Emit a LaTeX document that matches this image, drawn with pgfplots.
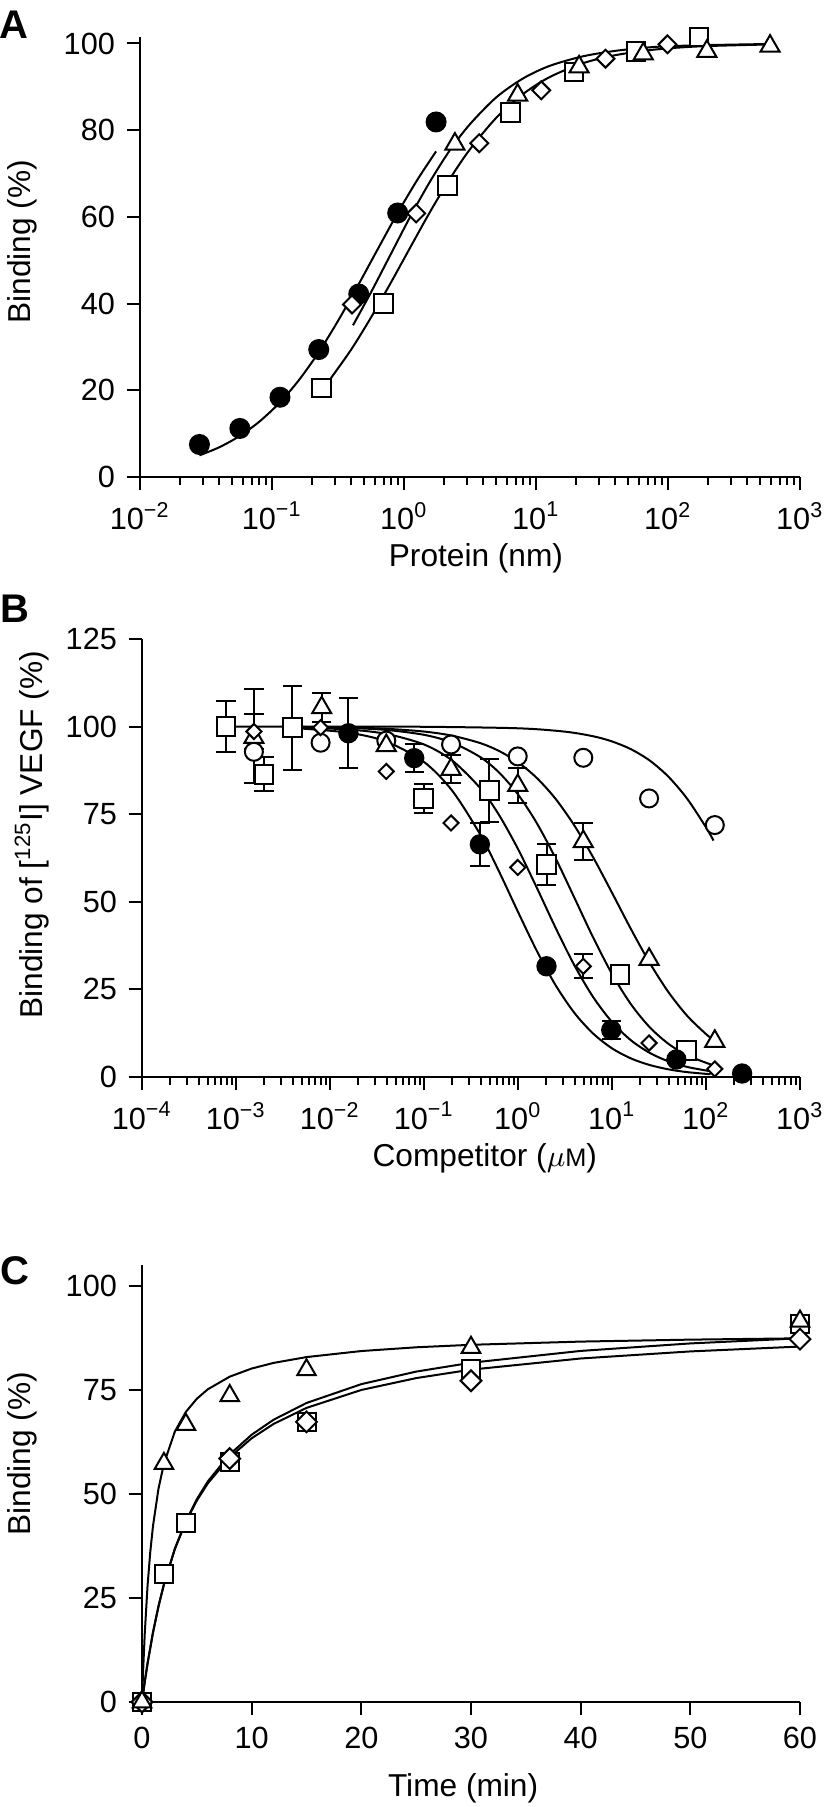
\documentclass[border=0pt]{standalone}
\usepackage{pgfplots}
\pgfplotsset{compat=1.18}
\usepackage{fontspec}
\setmainfont{Liberation Sans}

\pgfplotsset{
  panel/.style={
    scale only axis,
    anchor=south west,
    axis lines=left,
    axis line style={-, line width=0.6pt, black},
    tick align=outside,
    major tick length=4pt,
    minor tick length=2.4pt,
    tick style={black, line width=0.6pt},
    tick label style={font=\fontsize{9.2}{10}\selectfont},
    every axis label/.append style={font=\fontsize{9.5}{11}\selectfont},
    /pgf/number format/assume math mode=true,
    clip=false,
  },
  fitline/.style={no markers, black, line width=0.6pt, smooth},
  mfc/.style={only marks, mark=*, mark size=#1, mark options={draw=black, fill=black, line width=0.6pt}},
  mfc/.default=2.85pt,
  moc/.style={only marks, mark=*, mark size=2.7pt, mark options={draw=black, fill=white, line width=0.6pt}},
  msq/.style={only marks, mark=square*, mark size=#1, mark options={draw=black, fill=white, line width=0.6pt}},
  msq/.default=2.8pt,
  mtr/.style={only marks, mark=triangle*, mark size=#1, mark options={draw=black, fill=white, line width=0.6pt}},
  mtr/.default=3.3pt,
  mdm/.style={only marks, mark=square*, mark size=#1, mark options={draw=black, fill=white, line width=0.6pt, rotate=45}},
  mdm/.default=1.9pt,
  ebar/.style={only marks, mark=*, mark size=0.1pt, mark options={black},
    error bars/.cd, y dir=both, y explicit, error mark=|,
    error bar style={black, line width=0.6pt},
    error mark options={black, line width=0.6pt, mark size=2.9pt}},
}

\begin{document}
\begin{tikzpicture}[x=1pt,y=1pt]
\useasboundingbox (0,0) rectangle (247.2,-542.1);
\node[font=\bfseries\fontsize{12}{14}\selectfont] at (4.2,-7.5) {A};
\node[font=\bfseries\fontsize{12}{14}\selectfont] at (4.5,-182.7) {B};
\node[font=\bfseries\fontsize{12}{14}\selectfont] at (4.5,-381.3) {C};

% ---------------- Panel A ----------------
\begin{axis}[panel, at={(42pt,-143.1pt)}, width=198pt, height=132pt,
  xmode=log, xmin=1e-2, xmax=1e3, ymin=0, ymax=101.5,
  xtick={1e-2,1e-1,1,1e1,1e2,1e3},
  xticklabels={10\textsuperscript{−2},10\textsuperscript{−1},10\textsuperscript{0},10\textsuperscript{1},10\textsuperscript{2},10\textsuperscript{3}},
  minor xtick={0.02,0.03,0.04,0.05,0.06,0.07,0.08,0.09,0.2,0.3,0.4,0.5,0.6,0.7,0.8,0.9,2,3,4,5,6,7,8,9,20,30,40,50,60,70,80,90,200,300,400,500,600,700,800,900},
  ytick={0,20,40,60,80,100},
  xlabel={Protein (nm)}, ylabel={Binding (\%)},
  every axis x label/.style={at={(axis description cs:0.509,-0.184)}, anchor=center},
  every axis y label/.style={at={(axis description cs:-0.179,0.535)}, anchor=center, rotate=90},
]
\addplot[fitline] coordinates {(0.0282,4.99) (0.0398,6.85) (0.0562,9.36) (0.0794,12.66) (0.1122,16.9) (0.1585,22.2) (0.2239,28.6) (0.3162,36.0) (0.4467,44.1) (0.6310,52.5) (0.8913,60.8) (1.2589,68.5) (1.750,75.1)};
\addplot[fitline] coordinates {(0.411,35.0) (0.5623,42.6) (0.7943,51.4) (1.122,60.2) (1.585,68.3) (2.239,75.5) (3.162,81.4) (5.012,87.6) (7.943,91.9) (12.59,94.8) (22.39,97.0) (39.81,98.3) (79.43,99.2) (177.8,99.6) (631,99.9)};
\addplot[fitline] coordinates {(0.2793,22.8) (0.3981,29.4) (0.5623,36.8) (0.7943,44.8) (1.122,53.1) (1.585,61.3) (2.239,68.9) (3.162,75.6) (5.012,82.9) (7.943,88.3) (12.59,92.2) (22.39,95.4) (39.81,97.3) (79.43,98.6) (177.8,99.35) (631,99.8)};
\addplot[mfc] coordinates {(0.0282,7.5) (0.0571,11.2) (0.115,18.4) (0.226,29.4) (0.454,42.2) (0.896,60.9) (1.75,81.9)};
\addplot[msq] coordinates {(0.237,20.5) (0.700,40.0) (2.14,67.3) (6.44,84.1) (19.4,93.4) (57.2,98.2) (172,101.5)};
\addplot[mdm=1.9pt] coordinates {(0.404,39.8) (1.236,60.8) (3.72,77.0) (10.96,89.2) (33.6,96.5) (99.1,99.8)};
\addplot[mtr] coordinates {(2.43,76.8) (7.26,88.1) (21.2,94.6) (65.0,97.6) (197,98.2) (593,99.4)};
\end{axis}

% ---------------- Panel B ----------------
\begin{axis}[panel, at={(42.6pt,-323.1pt)}, width=197.4pt, height=131.4pt,
  xmode=log, xmin=1e-4, xmax=1e3, ymin=0, ymax=125,
  xtick={1e-4,1e-3,1e-2,1e-1,1,1e1,1e2,1e3},
  xticklabels={10\textsuperscript{−4},10\textsuperscript{−3},10\textsuperscript{−2},10\textsuperscript{−1},10\textsuperscript{0},10\textsuperscript{1},10\textsuperscript{2},10\textsuperscript{3}},
  minor xtick={2e-4,3e-4,4e-4,5e-4,6e-4,7e-4,8e-4,9e-4,2e-3,3e-3,4e-3,5e-3,6e-3,7e-3,8e-3,9e-3,0.02,0.03,0.04,0.05,0.06,0.07,0.08,0.09,0.2,0.3,0.4,0.5,0.6,0.7,0.8,0.9,2,3,4,5,6,7,8,9,20,30,40,50,60,70,80,90,200,300,400,500,600,700,800,900},
  ytick={0,25,50,75,100,125},
  xlabel={Competitor ($\mu${\fontsize{7.6}{8}\selectfont M})}, ylabel={Binding of [\textsuperscript{125}I] VEGF (\%)},
  every axis x label/.style={at={(axis description cs:0.521,-0.185)}, anchor=center},
  every axis y label/.style={at={(axis description cs:-0.167,0.553)}, anchor=center, rotate=90},
]
% fitted curves
\addplot[fitline] coordinates {(0.005012,99.44) (0.01585,98.25) (0.03981,95.72) (0.1,89.91) (0.1995,81.71) (0.3981,69.13) (0.631,58.55) (1,47.12) (1.585,36.0) (2.512,26.19) (3.981,18.29) (6.31,12.38) (10,8.18) (15.85,5.32) (25.12,3.43) (39.81,2.19) (63.1,1.39) (112.2,0.79)};
\addplot[fitline] coordinates {(0.005012,99.73) (0.01585,99.16) (0.03981,97.91) (0.1,94.90) (0.1995,90.32) (0.3981,82.39) (0.631,74.69) (1,65.06) (1.585,54.02) (2.512,42.57) (3.981,31.87) (6.31,22.79) (10,15.70) (15.85,10.51) (25.12,6.90) (39.81,4.47) (63.1,2.87) (112.2,1.63)};
\addplot[fitline] coordinates {(0.005012,99.88) (0.01585,99.62) (0.03981,99.05) (0.1,97.66) (0.1995,95.43) (0.3981,91.28) (0.631,86.85) (1,80.65) (1.585,72.45) (2.512,62.40) (3.981,51.15) (6.31,39.78) (10,29.42) (15.85,20.82) (25.12,14.23) (39.81,9.48) (63.1,6.20) (112.2,3.58)};
\addplot[fitline] coordinates {(0.005012,99.9) (0.01585,99.73) (0.03981,99.38) (0.1,98.59) (0.1995,97.41) (0.3981,95.28) (0.631,93.02) (1,89.81) (1.585,85.34) (2.512,79.37) (3.981,71.76) (6.31,62.67) (10,52.59) (15.85,42.29) (25.12,32.62) (39.81,24.24) (63.1,17.45) (100,12.25) (123,10.38)};
\addplot[fitline] coordinates {(7.94e-4,100) (0.01,99.99) (0.1,99.95) (1,99.52) (3.162,98.56) (6.31,97.24) (10,95.77) (15.85,93.57) (25.12,90.34) (39.81,85.71) (63.1,79.40) (100,71.25) (120.2,67.48)};
% error bars
\addplot[ebar] coordinates {(7.83e-4,100) +- (0,7.3) (1.98e-3,86.4) +- (0,4.9) (3.97e-3,99.7) +- (0,12.0) (0.0991,79.5) +- (0,4.2) (0.495,81.8) +- (0,8.9) (2.01,60.7) +- (0,5.8)};
\addplot[ebar] coordinates {(0.0157,98.1) +- (0,10.0) (0.0787,91.0) +- (0,4.0) (0.393,66.4) +- (0,6.1) (9.82,13.4) +- (0,2.6)};
\addplot[ebar] coordinates {(1.55e-3,97.3) +- (0,13.4) (8.16e-3,105.4) +- (0,4.2) (0.194,87.8) +- (0,4.0) (0.993,83.2) +- (0,5.1) (4.95,67.2) +- (0,5.2)};
\addplot[ebar] coordinates {(1.55e-3,98.6) +- (0,5.0) (4.95,31.6) +- (0,3.4)};
% markers
\addplot[moc] coordinates {(1.55e-3,92.8) (7.94e-3,95.4) (0.0397,96.0) (0.194,94.9) (0.993,91.5) (4.95,91.1) (24.8,79.5) (124,71.9)};
\addplot[mtr] coordinates {(1.55e-3,96.9) (8.16e-3,105.4) (0.0397,94.6) (0.194,87.8) (0.993,83.2) (4.95,67.2) (24.8,33.6) (124,10.2)};
\addplot[mdm=1.6pt] coordinates {(1.55e-3,98.6) (7.94e-3,99.7) (0.0397,87.2) (0.194,72.5) (0.993,59.8) (4.95,31.6) (24.8,9.7) (124,2.3)};
\addplot[msq] coordinates {(7.83e-4,100) (1.98e-3,86.4) (3.97e-3,99.7) (0.0991,79.5) (0.495,81.8) (2.01,60.7) (12.2,29.2) (61.8,7.6)};
\addplot[mfc=2.75pt] coordinates {(0.0157,98.1) (0.0787,91.0) (0.393,66.4) (2.01,31.6) (9.82,13.4) (48.4,5.0) (242,1.0)};
\end{axis}

% ---------------- Panel C ----------------
\begin{axis}[panel, at={(42.6pt,-510.6pt)}, width=197.4pt, height=131.1pt,
  xmin=0, xmax=60, ymin=0, ymax=105,
  xtick={0,10,20,30,40,50,60}, ytick={0,25,50,75,100},
  xlabel={Time (min)}, ylabel={Binding (\%)},
  every axis x label/.style={at={(axis description cs:0.488,-0.197)}, anchor=center},
  every axis y label/.style={at={(axis description cs:-0.182,0.568)}, anchor=center, rotate=90},
]
\addplot[no markers, black, line width=0.6pt] coordinates {(0,0) (0.1,7.37) (0.25,16.40) (0.5,27.69) (0.75,35.95) (1,42.24) (1.5,51.21) (2,57.29) (3,65.01) (4,69.71) (5,72.87) (6,75.14) (8,78.18) (10,80.13) (12,81.48) (15,82.88) (20,84.33) (25,85.23) (30,85.83) (40,86.60) (50,87.07) (60,87.39)};
\addplot[no markers, black, line width=0.6pt] coordinates {(0,0) (0.25,4.79) (0.5,9.12) (1,16.63) (1.5,22.92) (2,28.27) (3,36.87) (4,43.49) (5,48.73) (6,53.0) (8,59.50) (10,64.23) (12,67.83) (15,71.85) (20,76.38) (25,79.39) (30,81.52) (40,84.36) (50,86.16) (60,87.40)};
\addplot[no markers, black, line width=0.6pt] coordinates {(0,0) (0.25,4.85) (0.5,9.21) (1,16.73) (1.5,23.0) (2,28.31) (3,36.79) (4,43.27) (5,48.39) (6,52.53) (8,58.82) (10,63.37) (12,66.82) (15,70.67) (20,74.98) (25,77.83) (30,79.86) (40,82.54) (50,84.24) (60,85.41)};
\addplot[msq=2.7pt] coordinates {(0,0) (2,30.7) (4,42.9) (8,57.6) (15,67.3) (30,80.1) (60,90.8)};
\addplot[mdm=2.2pt] coordinates {(0,0) (8,58.5) (15,67.3) (30,77.2) (60,87.2)};
\addplot[mtr=3.2pt] coordinates {(0,0) (2,57.3) (4,66.7) (8,73.6) (15,79.8) (30,85.2) (60,91.5)};
\end{axis}
\end{tikzpicture}
\end{document}
